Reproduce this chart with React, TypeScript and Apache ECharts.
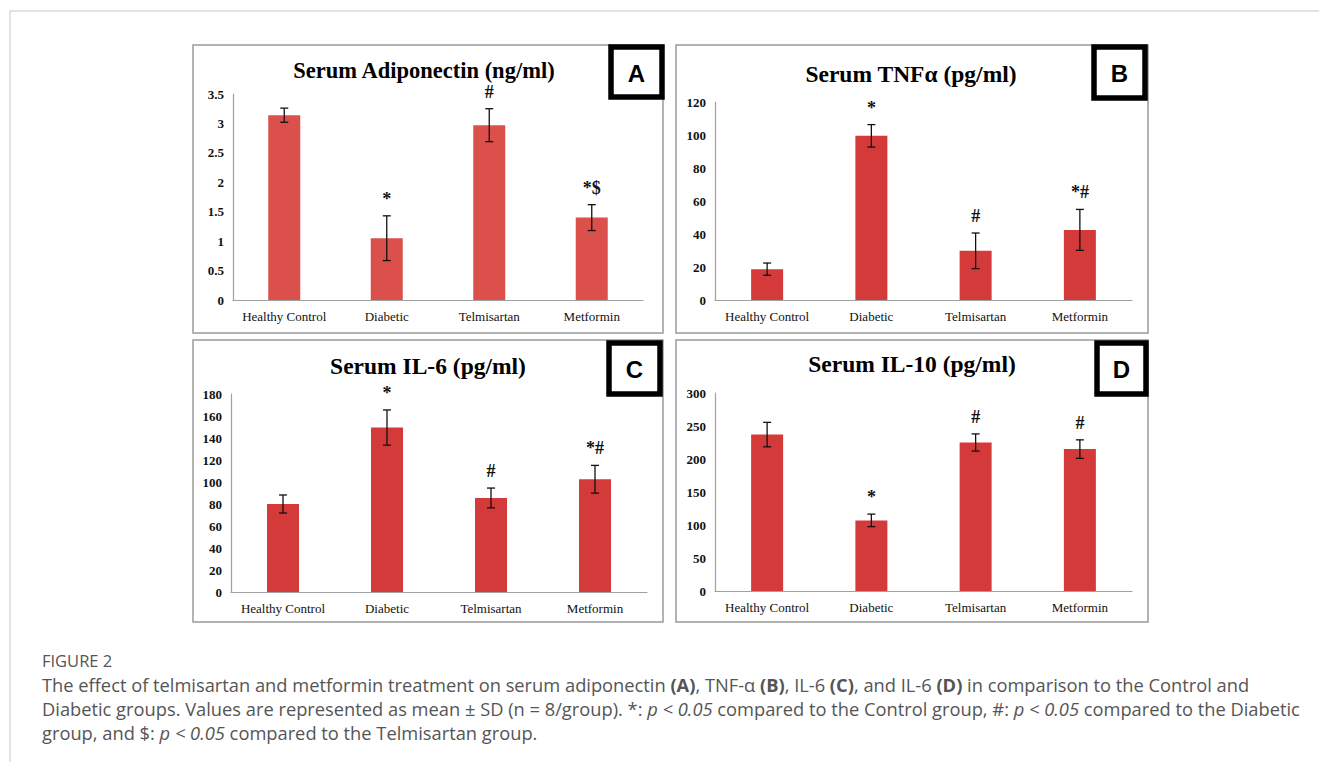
import React, { useEffect, useRef } from "react";
import * as echarts from "echarts";

// Groups shown on every panel
const groups = ["Healthy Control", "Diabetic", "Telmisartan", "Metformin"];

// Serum adiponectin (ng/ml): mean and SD
const adiponectinMean = [3.14, 1.05, 2.97, 1.4];
const adiponectinSd = [0.12, 0.38, 0.28, 0.22];
const adiponectinMarks = ["", "*", "#", "*$"];

// Serum TNF-α (pg/ml)
const tnfMean = [18.7, 99.5, 29.8, 42.5];
const tnfSd = [3.7, 6.8, 10.8, 12.4];
const tnfMarks = ["", "*", "#", "*#"];

// Serum IL-6 (pg/ml)
const il6Mean = [80, 149.5, 85.5, 102.5];
const il6Sd = [8.2, 16, 9, 12.6];
const il6Marks = ["", "*", "#", "*#"];

// Serum IL-10 (pg/ml)
const il10Mean = [237, 107, 225, 215];
const il10Sd = [18.5, 9.5, 13, 14];
const il10Marks = ["", "*", "#", "#"];

// Axis ranges
const yMax = [3.5, 120, 180, 300];
const yStep = [0.5, 20, 20, 50];

const titles = [
  "Serum Adiponectin (ng/ml)",
  "Serum TNFα (pg/ml)",
  "Serum IL-6 (pg/ml)",
  "Serum IL-10 (pg/ml)",
];
const panelLetters = ["A", "B", "C", "D"];

const captionHeading = "FIGURE 2";
const captionLines = [
  "The effect of telmisartan and metformin treatment on serum adiponectin {b|(A)}, TNF-α {b|(B)}, IL-6 {b|(C)}, and IL-6 {b|(D)} in comparison to the Control and",
  "Diabetic groups. Values are represented as mean ± SD (n = 8/group). *: {i|p < 0.05} compared to the Control group, #: {i|p < 0.05} compared to the Diabetic",
  "group, and $: {i|p < 0.05} compared to the Telmisartan group.",
];

const SERIF = "'Liberation Serif', 'Times New Roman', serif";
const SANS = "'Open Sans', 'Noto Sans', sans-serif";
const CAPTION_SIZE = 18.3;

// Layout of the four panels
const grids = [
  { left: 233, top: 94, width: 410, height: 206 },
  { left: 715, top: 102, width: 417, height: 198 },
  { left: 231, top: 394, width: 416, height: 198 },
  { left: 715, top: 393, width: 417, height: 198 },
];
const frames = [
  { x: 193, y: 45, w: 470, h: 288 },
  { x: 676, y: 45, w: 472, h: 288 },
  { x: 193, y: 340, w: 470, h: 282 },
  { x: 676, y: 340, w: 472, h: 282 },
];
const letterBoxes = [
  { x: 611, y: 47, w: 51, h: 50 },
  { x: 1094, y: 47, w: 51, h: 51 },
  { x: 609, y: 343, w: 51, h: 51 },
  { x: 1097, y: 343, w: 49, h: 51 },
];
const titlePos = [
  { x: 424, y: 70 },
  { x: 911, y: 74 },
  { x: 428, y: 366 },
  { x: 912, y: 364 },
];
const titleSizes = [22.5, 23.5, 23.5, 23.5];
const barColors = ["#dc504b", "#d53a3a", "#d53a3a", "#d53a3a"];

const means = [adiponectinMean, tnfMean, il6Mean, il10Mean];
const sds = [adiponectinSd, tnfSd, il6Sd, il10Sd];
const marks = [adiponectinMarks, tnfMarks, il6Marks, il10Marks];

function errorSeries(i: number) {
  const m = means[i];
  const s = sds[i];
  const mk = marks[i];
  return {
    type: "custom",
    xAxisIndex: i,
    yAxisIndex: i,
    z: 5,
    data: m.map((v, k) => [k, v, s[k]]),
    renderItem: (params: any, api: any) => {
      const k = api.value(0);
      const v = api.value(1);
      const sd = api.value(2);
      const top = api.coord([k, v + sd]);
      const bot = api.coord([k, v - sd]);
      const cap = 4;
      const ls = { stroke: "#111", lineWidth: 1.3 };
      const children: any[] = [
        { type: "line", shape: { x1: top[0], y1: top[1], x2: bot[0], y2: bot[1] }, style: ls },
        { type: "line", shape: { x1: top[0] - cap, y1: top[1], x2: top[0] + cap, y2: top[1] }, style: ls },
        { type: "line", shape: { x1: bot[0] - cap, y1: bot[1], x2: bot[0] + cap, y2: bot[1] }, style: ls },
      ];
      const label = mk[params.dataIndex];
      if (label) {
        children.push({
          type: "text",
          x: top[0],
          y: top[1] - 8,
          style: {
            text: label,
            fill: "#111",
            font: `bold 18px ${SERIF}`,
            align: "center",
            verticalAlign: "bottom",
          },
        });
      }
      return { type: "group", children };
    },
  };
}

export default function App() {
  const ref = useRef<HTMLDivElement>(null);

  useEffect(() => {
    if (!ref.current) return;
    const chart = echarts.init(ref.current, undefined, { renderer: "svg" });

    const graphics: any[] = [];
    // outer page frame
    graphics.push({
      type: "line",
      shape: { x1: 10, y1: 11, x2: 1319, y2: 11 },
      style: { stroke: "#d9d9d9", lineWidth: 1.5 },
    });
    graphics.push({
      type: "line",
      shape: { x1: 10, y1: 11, x2: 10, y2: 762 },
      style: { stroke: "#d9d9d9", lineWidth: 1.5 },
    });
    frames.forEach((f) => {
      graphics.push({
        type: "rect",
        shape: { x: f.x, y: f.y, width: f.w, height: f.h },
        style: { fill: "none", stroke: "#9a9a9a", lineWidth: 1.5 },
        z: 1,
      });
    });
    letterBoxes.forEach((b, i) => {
      graphics.push({
        type: "rect",
        shape: { x: b.x, y: b.y, width: b.w, height: b.h },
        style: { fill: "#fff", stroke: "#000", lineWidth: 5.5 },
        z: 10,
      });
      graphics.push({
        type: "text",
        x: b.x + b.w / 2,
        y: b.y + b.h / 2 + 1,
        z: 11,
        style: {
          text: panelLetters[i],
          fill: "#000",
          font: `bold 24px 'Liberation Sans', Arial, sans-serif`,
          align: "center",
          verticalAlign: "middle",
        },
      });
    });
    titlePos.forEach((p, i) => {
      graphics.push({
        type: "text",
        x: p.x,
        y: p.y,
        z: 10,
        style: {
          text: titles[i],
          fill: "#000",
          font: `bold ${titleSizes[i]}px ${SERIF}`,
          align: "center",
          verticalAlign: "middle",
        },
      });
    });
    graphics.push({
      type: "text",
      x: 42,
      y: 660,
      style: {
        text: captionHeading,
        fill: "#555",
        font: `16.5px ${SANS}`,
        align: "left",
        verticalAlign: "middle",
      },
    });
    const rich = {
      b: { fontFamily: SANS, fontSize: CAPTION_SIZE, fontWeight: "bold", fill: "#555" },
      i: { fontFamily: SANS, fontSize: CAPTION_SIZE, fontStyle: "italic", fill: "#555" },
    };
    captionLines.forEach((line, k) => {
      graphics.push({
        type: "text",
        x: 42,
        y: 684 + k * 24,
        style: {
          text: line,
          fill: "#555",
          fontFamily: SANS,
          fontSize: CAPTION_SIZE,
          align: "left",
          verticalAlign: "middle",
          rich,
        },
      });
    });

    const option: any = {
      animation: false,
      backgroundColor: "#fff",
      grid: grids.map((g) => ({ ...g, containLabel: false })),
      xAxis: grids.map((_, i) => ({
        type: "category",
        gridIndex: i,
        data: groups,
        axisLine: { lineStyle: { color: "#a0a0a0", width: 1.2 } },
        axisTick: { show: false },
        axisLabel: {
          color: "#111",
          fontFamily: SERIF,
          fontSize: 13,
          margin: 10,
          interval: 0,
        },
      })),
      yAxis: grids.map((_, i) => ({
        type: "value",
        gridIndex: i,
        min: 0,
        max: yMax[i],
        interval: yStep[i],
        splitLine: { show: false },
        axisLine: { show: true, lineStyle: { color: "#a0a0a0", width: 1.2 } },
        axisTick: { show: false },
        axisLabel: {
          color: "#111",
          fontFamily: SERIF,
          fontWeight: "bold",
          fontSize: 13,
          margin: 9,
        },
      })),
      series: [
        ...grids.map((_, i) => ({
          type: "bar",
          xAxisIndex: i,
          yAxisIndex: i,
          data: means[i],
          barWidth: 32,
          itemStyle: { color: barColors[i] },
          z: 2,
        })),
        ...grids.map((_, i) => errorSeries(i)),
      ],
      graphic: graphics,
    };

    chart.setOption(option);
    return () => chart.dispose();
  }, []);

  return (
    <div
      ref={ref}
      style={{ position: "fixed", left: 0, top: 0, width: 1319, height: 762 }}
    />
  );
}
